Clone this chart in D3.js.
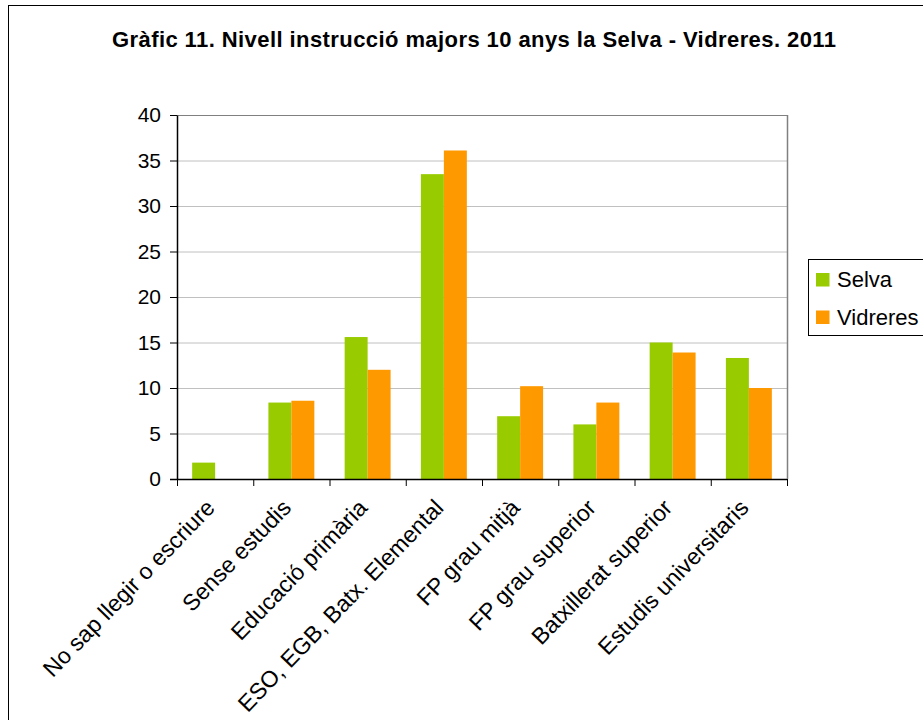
<!DOCTYPE html>
<html>
<head>
<meta charset="utf-8">
<script src="https://cdn.jsdelivr.net/npm/d3@7"></script>
<style>
  body { margin: 0; background: #fff; }
  text { font-family: "Liberation Sans", Arial, sans-serif; }
</style>
</head>
<body>
<svg id="chart"></svg>
<script>
// Dades
const categories = [
  "No sap llegir o escriure",
  "Sense estudis",
  "Educació primària",
  "ESO, EGB, Batx. Elemental",
  "FP grau mitjà",
  "FP grau superior",
  "Batxillerat superior",
  "Estudis universitaris"
];
const seriesNames = ["Selva", "Vidreres"];
const selva = [1.8, 8.4, 15.6, 33.5, 6.9, 6.0, 15.0, 13.3];
const vidreres = [0, 8.6, 12.0, 36.1, 10.2, 8.4, 13.9, 10.0];
const yTicks = [0, 5, 10, 15, 20, 25, 30, 35, 40];
const colors = ["#99cc00", "#ff9900"];

const width = 923;
const height = 720;
const plot = { left: 177, right: 787, top: 115, bottom: 479 };

const svg = d3.select("#chart")
  .attr("width", width)
  .attr("height", height);

// marc exterior
svg.append("rect")
  .attr("x", 8.5).attr("y", 5.5)
  .attr("width", width + 10).attr("height", height + 10)
  .attr("fill", "none").attr("stroke", "#000");

// títol
svg.append("text")
  .attr("x", 474).attr("y", 47)
  .attr("text-anchor", "middle")
  .attr("font-size", 22).attr("font-weight", "bold")
  .attr("textLength", 724).attr("lengthAdjust", "spacing")
  .attr("fill", "#000")
  .text("Gràfic 11. Nivell instrucció majors 10 anys la Selva - Vidreres. 2011");

const y = d3.scaleLinear()
  .domain([0, 40])
  .range([plot.bottom, plot.top]);

const x0 = d3.scaleBand()
  .domain(categories)
  .range([plot.left, plot.right])
  .padding(0);

const x1 = d3.scaleBand()
  .domain(seriesNames)
  .range([0, x0.bandwidth()])
  .paddingInner(0)
  .paddingOuter(0.66);

// graella
svg.append("g")
  .selectAll("line")
  .data(yTicks.filter(d => d > 0))
  .join("line")
  .attr("x1", plot.left).attr("x2", plot.right)
  .attr("y1", d => y(d) + 0.5).attr("y2", d => y(d) + 0.5)
  .attr("stroke", d => d === 40 ? "#808080" : "#c0c0c0");

// vora dreta
svg.append("line")
  .attr("x1", plot.right + 0.5).attr("x2", plot.right + 0.5)
  .attr("y1", plot.top).attr("y2", plot.bottom)
  .attr("stroke", "#808080").attr("stroke-width", 1.5);

// barres
const data = categories.map((c, i) => ({ cat: c, values: [selva[i], vidreres[i]] }));
svg.append("g")
  .selectAll("g")
  .data(data)
  .join("g")
  .attr("transform", d => `translate(${x0(d.cat)},0)`)
  .selectAll("rect")
  .data(d => d.values.map((v, j) => ({ name: seriesNames[j], value: v, j })))
  .join("rect")
  .attr("x", d => x1(d.name))
  .attr("y", d => y(d.value))
  .attr("width", x1.bandwidth())
  .attr("height", d => y(0) - y(d.value))
  .attr("fill", d => colors[d.j]);

// eix Y
const yAxis = svg.append("g")
  .attr("transform", `translate(${plot.left},0)`)
  .call(d3.axisLeft(y).tickValues(yTicks).tickSize(7).tickPadding(9).tickSizeOuter(0));
yAxis.select(".domain").attr("stroke", "#000").attr("stroke-width", 1.5);
yAxis.selectAll("text").attr("font-size", 21).attr("fill", "#000")
  .attr("font-family", "Liberation Sans, Arial, sans-serif");

// eix X
const xAxis = svg.append("g")
  .attr("transform", `translate(0,${plot.bottom})`);
xAxis.append("line")
  .attr("x1", plot.left - 7).attr("x2", plot.right)
  .attr("y1", 0.5).attr("y2", 0.5)
  .attr("stroke", "#000").attr("stroke-width", 1.5);
xAxis.selectAll(".tick")
  .data(categories.map(c => x0(c)).concat([plot.right]))
  .join("line")
  .attr("x1", d => d + 0.5).attr("x2", d => d + 0.5)
  .attr("y1", 0).attr("y2", 7)
  .attr("stroke", "#000");
xAxis.selectAll("text")
  .data(categories)
  .join("text")
  .attr("transform", d => `translate(${x0(d) + x0.bandwidth() / 2 + 1},30) rotate(-46)`)
  .attr("text-anchor", "end")
  .attr("font-size", 23)
  .attr("fill", "#000")
  .text(d => d);

// llegenda
const legend = svg.append("g");
legend.append("rect")
  .attr("x", 808.5).attr("y", 259.5)
  .attr("width", 130).attr("height", 76)
  .attr("fill", "#fff").attr("stroke", "#000");
const items = legend.selectAll("g.item")
  .data(seriesNames)
  .join("g")
  .attr("class", "item")
  .attr("transform", (d, i) => `translate(816,${273 + i * 37.5})`);
items.append("rect")
  .attr("width", 13.5).attr("height", 13.5)
  .attr("fill", (d, i) => colors[i]);
items.append("text")
  .attr("x", 21).attr("y", 14)
  .attr("font-size", 22)
  .attr("fill", "#000")
  .text(d => d);
</script>
</body>
</html>
